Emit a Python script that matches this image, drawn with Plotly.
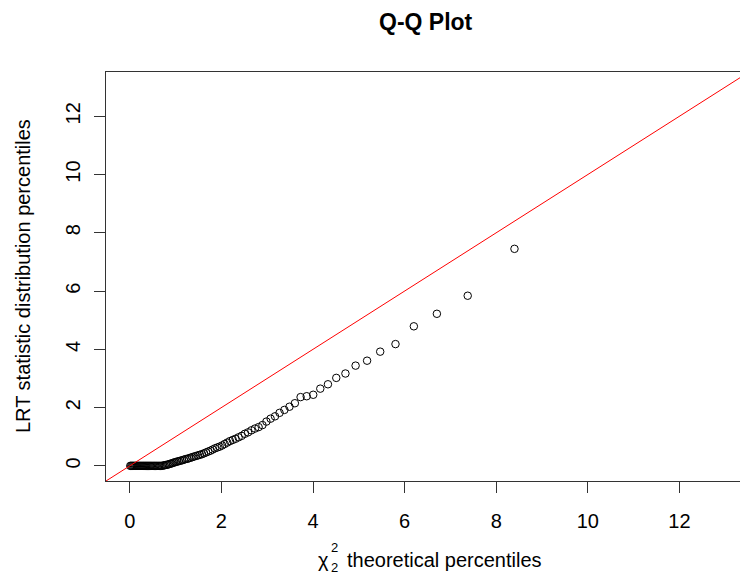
import plotly.graph_objects as go

# Theoretical chi-square (2 df) percentiles
chi2_quantiles = [
    0.010, 0.030, 0.051, 0.071, 0.092, 0.113, 0.134, 0.156, 0.178, 0.200,
    0.222, 0.244, 0.267, 0.290, 0.313, 0.337, 0.361, 0.385, 0.409, 0.434,
    0.459, 0.484, 0.510, 0.536, 0.562, 0.589, 0.616, 0.643, 0.671, 0.699,
    0.728, 0.757, 0.786, 0.816, 0.846, 0.877, 0.908, 0.940, 0.972, 1.005,
    1.038, 1.072, 1.107, 1.142, 1.178, 1.214, 1.251, 1.289, 1.327, 1.366,
    1.406, 1.447, 1.489, 1.531, 1.575, 1.619, 1.665, 1.711, 1.759, 1.808,
    1.858, 1.909, 1.962, 2.016, 2.071, 2.128, 2.187, 2.248, 2.310, 2.375,
    2.442, 2.511, 2.582, 2.656, 2.733, 2.813, 2.896, 2.983, 3.074, 3.170,
    3.270, 3.375, 3.486, 3.604, 3.729, 3.862, 4.005, 4.159, 4.326, 4.508,
    4.708, 4.930, 5.181, 5.467, 5.801, 6.202, 6.705, 7.378, 8.399,
]

# Observed LRT statistic percentiles (sorted)
lrt_percentiles = [
    0.00, 0.00, 0.00, 0.00, 0.00, 0.00, 0.00, 0.00, 0.00, 0.00,
    0.00, 0.00, 0.00, 0.00, 0.00, 0.00, 0.00, 0.00, 0.00, 0.00,
    0.00, 0.00, 0.00, 0.00, 0.00, 0.00, 0.00, 0.00, 0.00, 0.00,
    0.01, 0.02, 0.03, 0.04, 0.05, 0.07, 0.08, 0.10, 0.12, 0.13,
    0.15, 0.16, 0.18, 0.19, 0.21, 0.23, 0.24, 0.26, 0.28, 0.30,
    0.32, 0.34, 0.36, 0.38, 0.40, 0.43, 0.46, 0.49, 0.52, 0.56,
    0.60, 0.63, 0.66, 0.70, 0.75, 0.80, 0.85, 0.89, 0.93, 0.98,
    1.03, 1.10, 1.15, 1.22, 1.28, 1.33, 1.40, 1.52, 1.62, 1.70,
    1.82, 1.92, 2.03, 2.15, 2.36, 2.39, 2.44, 2.65, 2.80, 3.02,
    3.17, 3.44, 3.61, 3.92, 4.18, 4.79, 5.22, 5.84, 7.45,
]

tick_values = [0, 2, 4, 6, 8, 10, 12]
tick_labels = ["0", "2", "4", "6", "8", "10", "12"]

# axis limits (common 0..13 range with 4% padding)
AX_LO, AX_HI = -0.52, 13.52

W, H = 740, 577
ML, MR, MT, MB = 106, 0, 72, 96
PW, PH = W - ML - MR, H - MT - MB
FONT = "Liberation Sans, Arial, sans-serif"


def px(xp):
    return (xp - ML) / PW


def py(yp):
    return (H - MB - yp) / PH


fig = go.Figure()

fig.add_trace(go.Scatter(
    x=chi2_quantiles, y=lrt_percentiles, mode="markers",
    marker=dict(symbol="circle-open", size=7.5, color="black",
                line=dict(width=1, color="black")),
    showlegend=False, hoverinfo="x+y",
))

# reference line y = x
fig.add_trace(go.Scatter(
    x=[AX_LO, AX_HI], y=[AX_LO, AX_HI], mode="lines",
    line=dict(color="red", width=1),
    showlegend=False, hoverinfo="skip",
))

axis_common = dict(
    tickvals=tick_values, ticktext=tick_labels,
    ticks="outside", ticklen=11, tickwidth=1, tickcolor="#333333",
    showline=True, linecolor="#333333", linewidth=1,
    showgrid=False, zeroline=False,
    tickfont=dict(family=FONT, size=20, color="black"),
)

# the plotting region runs slightly past the right edge of the page
x_hi_visible = AX_LO + (AX_HI - AX_LO) * PW / 643.0

fig.update_layout(
    width=W, height=H,
    margin=dict(l=ML, r=MR, t=MT, b=MB),
    paper_bgcolor="white", plot_bgcolor="white",
    xaxis=dict(range=[AX_LO, x_hi_visible], mirror=True,
               ticklabelstandoff=11, **axis_common),
    yaxis=dict(range=[AX_LO, AX_HI], tickangle=-90, mirror=False,
               ticklabelstandoff=6, **axis_common),
    font=dict(family=FONT, color="black"),
)

annotations = [
    # title
    dict(text="<b>Q-Q Plot</b>", x=px(426), y=py(22), xanchor="center",
         yanchor="middle", font=dict(size=23)),
    # y axis title
    dict(text="LRT statistic distribution percentiles", x=px(23), y=py(276),
         xanchor="center", yanchor="middle", textangle=-90,
         font=dict(size=20)),
    # x axis title: chi with stacked super/subscript
    dict(text="χ", x=px(323), y=py(560), xanchor="center",
         yanchor="middle", font=dict(size=20)),
    dict(text="2", x=px(334), y=py(547), xanchor="center",
         yanchor="middle", font=dict(size=13)),
    dict(text="2", x=px(334), y=py(567), xanchor="center",
         yanchor="middle", font=dict(size=13)),
    dict(text="theoretical percentiles", x=px(345), y=py(560),
         xanchor="left", yanchor="middle", font=dict(size=20)),
]
for a in annotations:
    a.update(xref="paper", yref="paper", showarrow=False)
    a["font"].update(family=FONT, color="black")
fig.update_layout(annotations=annotations)

fig.write_html("out.html")
